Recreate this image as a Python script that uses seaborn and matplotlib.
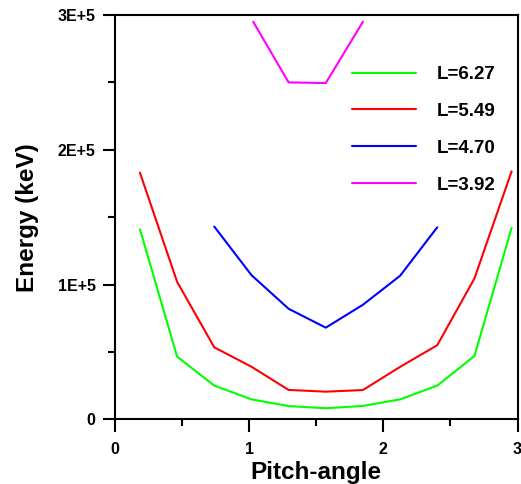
import numpy as np
import pandas as pd
import matplotlib
matplotlib.use("Agg")
import matplotlib.pyplot as plt
import seaborn as sns
from matplotlib.ticker import MultipleLocator

# Data
x_all = [0.186, 0.463, 0.740, 1.017, 1.294, 1.571, 1.848, 2.125, 2.402, 2.679, 2.956]
green_y = [141000, 46500, 25000, 14800, 9800, 8200, 9900, 14800, 25000, 47000, 142000]   # L=6.27
red_y = [183000, 102000, 53400, 39000, 21800, 20500, 21700, 38900, 55000, 104500, 184000]  # L=5.49
blue_x = [0.740, 1.017, 1.294, 1.571, 1.848, 2.125, 2.402]
blue_y = [143000, 107000, 82000, 68000, 85000, 106500, 142500]  # L=4.70
mag_x = [1.030, 1.294, 1.571, 1.848]
mag_y = [295000, 250000, 249500, 295000]  # L=3.92
labels = ["L=6.27", "L=5.49", "L=4.70", "L=3.92"]
colors = ["#00FF00", "#FF0000", "#0000FF", "#FF00FF"]
ytick_vals = [0, 100000, 200000, 300000]
ytick_labels = ["0", "1E+5", "2E+5", "3E+5"]
xtick_vals = [0, 1, 2, 3]
xtick_labels = ["0", "1", "2", "3"]

df = pd.concat([
    pd.DataFrame({"x": x_all, "y": green_y, "L": labels[0]}),
    pd.DataFrame({"x": x_all, "y": red_y, "L": labels[1]}),
    pd.DataFrame({"x": blue_x, "y": blue_y, "L": labels[2]}),
    pd.DataFrame({"x": mag_x, "y": mag_y, "L": labels[3]}),
], ignore_index=True)

sns.set_theme(style="ticks")
plt.rcParams["font.family"] = ["Liberation Sans", "DejaVu Sans"]
plt.rcParams["font.weight"] = "bold"
plt.rcParams["text.color"] = "black"
plt.rcParams["axes.labelcolor"] = "black"
plt.rcParams["xtick.color"] = "black"
plt.rcParams["ytick.color"] = "black"

fig = plt.figure(figsize=(5.21, 4.84), dpi=100)
ax = fig.add_axes([0.2207, 0.1337, 0.7726, 0.8353])

sns.lineplot(data=df, x="x", y="y", hue="L", hue_order=labels,
             palette=dict(zip(labels, colors)), sort=False, linewidth=1.5,
             estimator=None, ax=ax, legend=True)

ax.set_xlim(0, 3)
ax.set_ylim(0, 300000)
ax.set_xticks(xtick_vals)
ax.set_xticklabels(xtick_labels)
ax.set_yticks(ytick_vals)
ax.set_yticklabels(ytick_labels)
ax.xaxis.set_minor_locator(MultipleLocator(0.5))
ax.yaxis.set_minor_locator(MultipleLocator(50000))

for s in ["left", "bottom", "top", "right"]:
    ax.spines[s].set_visible(True)
    ax.spines[s].set_linewidth(1.5)
    ax.spines[s].set_color("black")
ax.tick_params(which="major", direction="out", length=9, width=1.5, labelsize=11.5,
               pad=5, colors="black")
ax.tick_params(which="minor", direction="out", length=5, width=1.5, colors="black")
ax.tick_params(axis="x", which="major", pad=7)
for t in ax.get_xticklabels() + ax.get_yticklabels():
    t.set_fontweight("bold")

ax.set_xlabel("Pitch-angle", fontsize=17.5, fontweight="bold", labelpad=3, color="black")
ax.set_ylabel("Energy (keV)", fontsize=17.5, fontweight="bold", labelpad=13, color="black")

leg = ax.legend(loc="upper left", bbox_to_anchor=(0.59, 0.874), frameon=False,
                fontsize=13.5, handlelength=3.4, handletextpad=1.1, labelspacing=1.05,
                borderpad=0, borderaxespad=0)
for t in leg.get_texts():
    t.set_fontweight("bold")
    t.set_color("black")
for h in leg.get_lines():
    h.set_linewidth(1.5)

fig.savefig("out.png", dpi=100)
